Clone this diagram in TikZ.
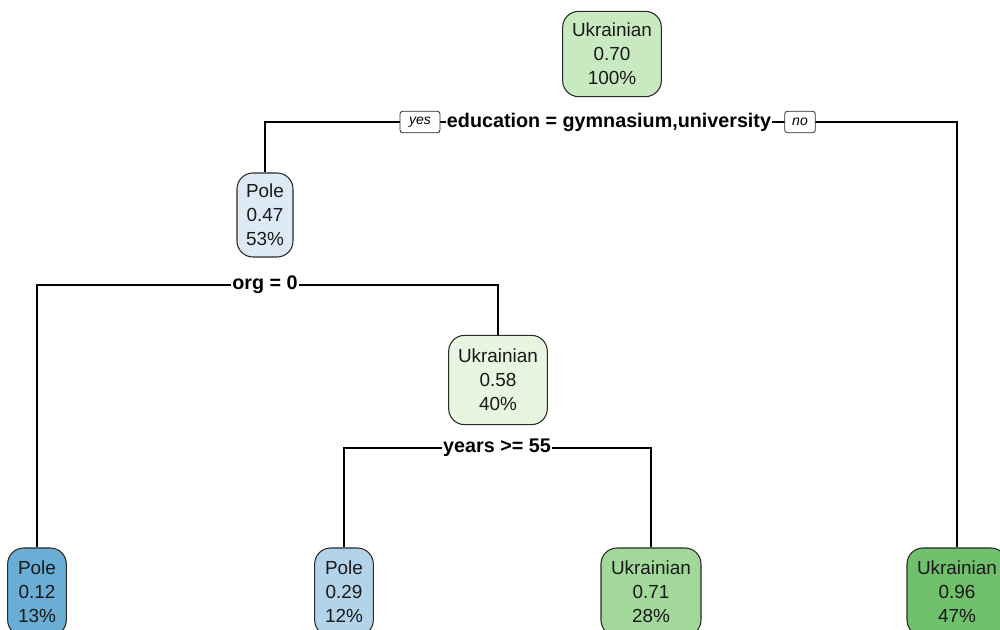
\documentclass[tikz,border=0pt]{standalone}
\usepackage{fontspec}
\setmainfont{Liberation Sans}
\usetikzlibrary{backgrounds}
\definecolor{cRoot}{HTML}{C9EAC1}
\definecolor{cP47}{HTML}{DDEAF6}
\definecolor{cU58}{HTML}{E7F5E1}
\definecolor{cP12}{HTML}{6AAED6}
\definecolor{cP29}{HTML}{B3D3EA}
\definecolor{cU71}{HTML}{A2D99B}
\definecolor{cU96}{HTML}{70C06C}
\definecolor{cBorder}{HTML}{2A2A2A}
\tikzset{
  treenode/.style={draw=cBorder, line width=0.8pt, rounded corners=12pt, align=center,
    inner sep=0pt, font=\fontsize{14.2}{18}\selectfont, text=black!90},
  wide/.style={treenode, minimum width=74pt, minimum height=64pt},
  narrow/.style={treenode, minimum width=42pt, minimum height=63pt},
  leafwide/.style={treenode, minimum width=75pt, minimum height=66pt},
  leafnarrow/.style={treenode, minimum width=44pt, minimum height=66pt},
  splitlabel/.style={fill=white, inner sep=1pt, font=\fontsize{14.8}{16}\bfseries\selectfont},
  yesno/.style={draw=cBorder, fill=white, line width=0.6pt, rounded corners=2pt, inner sep=0pt,
    minimum height=16pt, font=\fontsize{10.5}{12}\itshape\selectfont},
  conn/.style={line width=0.8pt, draw=black}
}
\begin{document}
\begin{tikzpicture}[x=0.75pt, y=-0.75pt]
\useasboundingbox (0,0) rectangle (1000,630);
\clip (0,0) rectangle (1000,630);
% nodes
\node[wide, fill=cRoot] (root) at (612,54) {Ukrainian\\0.70\\100\%};
\node[splitlabel] (s1) at (609,122) {education = gymnasium,university};
\node[yesno, minimum width=30pt] (yes) at (420,122) {yes};
\node[yesno, minimum width=23pt] (no) at (800,122) {no};
\node[narrow, fill=cP47] (p47) at (265,215) {Pole\\0.47\\53\%};
\node[splitlabel] (s2) at (265,285) {org = 0};
\node[wide, fill=cU58, minimum height=67pt] (u58) at (498,380) {Ukrainian\\0.58\\40\%};
\node[splitlabel] (s3) at (497,448) {years >= 55};
\node[leafnarrow, fill=cP12] (p12) at (37,592) {Pole\\0.12\\13\%};
\node[leafnarrow, fill=cP29] (p29) at (344,592) {Pole\\0.29\\12\%};
\node[leafwide, fill=cU71] (u71) at (651,592) {Ukrainian\\0.71\\28\%};
\node[leafwide, fill=cU96] (u96) at (957,592) {Ukrainian\\0.96\\47\%};
% connectors
\begin{scope}[on background layer]
\draw[conn] (p47.north) |- (s1.center) -| (u96.north);
\draw[conn] (p12.north) |- (s2.center) -| (u58.north);
\draw[conn] (p29.north) |- (s3.center) -| (u71.north);
\end{scope}
\end{tikzpicture}
\end{document}
